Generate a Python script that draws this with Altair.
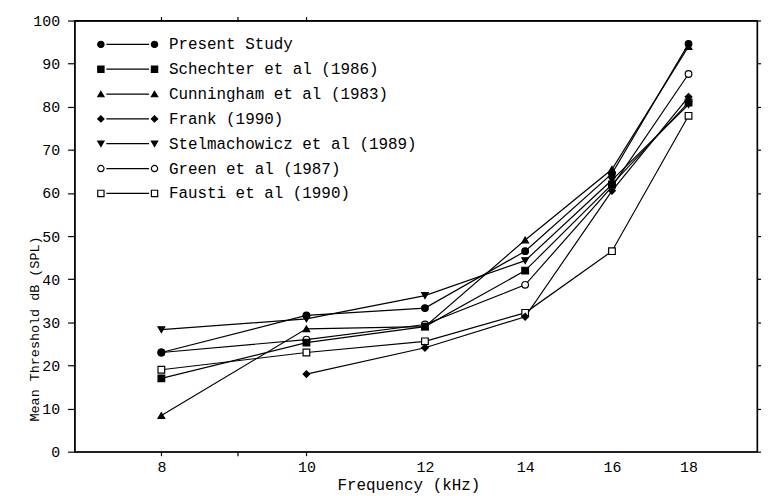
import altair as alt
import pandas as pd

freqs = [8, 10, 12, 14, 16, 18]
studies = [
    "Present Study",
    "Schechter et al (1986)",
    "Cunningham et al (1983)",
    "Frank (1990)",
    "Stelmachowicz et al (1989)",
    "Green et al (1987)",
    "Fausti et al (1990)",
]
present = [23.0, 31.6, 33.3, 46.5, 64.5, 94.6]
schechter = [17.0, 25.3, 29.0, 42.0, 62.0, 81.0]
cunningham = [8.4, 28.5, 29.0, 49.1, 65.5, 94.0]
frank = [None, 18.0, 24.1, 31.3, 60.5, 82.3]
stelmachowicz = [28.3, 30.8, 36.2, 44.3, 63.0, 80.5]
green = [23.0, 26.0, 29.5, 38.7, 61.5, 87.6]
fausti = [19.0, 23.0, 25.6, 32.2, 46.5, 77.9]
series = [present, schechter, cunningham, frank, stelmachowicz, green, fausti]

x_ticks = [8, 9, 10, 12, 14, 16, 18]
y_ticks = list(range(0, 101, 10))

rows = []
# open-marker series first so filled markers are drawn on top of them
draw_order = [5, 6, 0, 1, 2, 3, 4]
for i in draw_order:
    s, vals = studies[i], series[i]
    for f, v in zip(freqs, vals):
        if v is not None:
            rows.append({"Study": s, "Frequency": f, "Threshold": v})
df = pd.DataFrame(rows)
df_leg = pd.DataFrame({"Study": studies})

FONT = "Liberation Mono"
point_shapes = ["circle", "square", "triangle-up", "diamond", "triangle-down", "circle", "square"]
fills = ["black", "black", "black", "black", "black", "white", "white"]

xscale = alt.Scale(type="log", domain=[7, 20], nice=False)
yscale = alt.Scale(domain=[0, 100], nice=False, zero=True)
shape_scale = alt.Scale(domain=studies, range=point_shapes)
fill_scale = alt.Scale(domain=studies, range=fills)
leg_y = alt.Scale(type="point", domain=studies, range=[24, 174], padding=0)

common_axis = dict(
    domainColor="black",
    domainWidth=1.3,
    tickColor="black",
    tickWidth=1.2,
    labelColor="black",
    labelFont=FONT,
    grid=False,
    titleColor="black",
    titleFont=FONT,
    titleFontWeight="normal",
)

lines = alt.Chart(df).mark_line(color="black", strokeWidth=1.2).encode(
    x=alt.X(
        "Frequency:Q",
        scale=xscale,
        axis=alt.Axis(
            values=x_ticks,
            format="d",
            labelExpr="datum.value == 9 ? '' : datum.label",
            tickOpacity={"condition": {"test": "datum.value <= 10", "value": 1}, "value": 0},
            tickSize=4,
            labelPadding=4,
            labelFontSize=15,
            labelFlush=False,
            title="Frequency (kHz)",
            titleFontSize=16,
            titleX=336,
            titleY=25,
            titleAlign="center",
            titleBaseline="top",
            **common_axis,
        ),
    ),
    y=alt.Y(
        "Threshold:Q",
        scale=yscale,
        axis=alt.Axis(
            values=y_ticks,
            tickSize=7,
            labelPadding=8,
            labelFontSize=15,
            labelFlush=False,
            title="Mean Threshold dB (SPL)",
            titleFontSize=13.5,
            titleX=-40,
            titleY=310,
            titleAngle=270,
            titleAlign="center",
            titleBaseline="middle",
            **common_axis,
        ),
    ),
    detail="Study:N",
    order="Frequency:Q",
)

points = alt.Chart(df).mark_point(
    stroke="black", strokeWidth=1.2, size=45, opacity=1
).encode(
    x=alt.X(
        "Frequency:Q",
        scale=xscale,
        axis=alt.Axis(orient="top", values=[8, 9, 10], labels=False, tickSize=4, title=None, **common_axis),
    ),
    y=alt.Y(
        "Threshold:Q",
        scale=yscale,
        axis=alt.Axis(orient="right", values=y_ticks, labels=False, tickSize=5, title=None, **common_axis),
    ),
    shape=alt.Shape("Study:N", scale=shape_scale, legend=None),
    fill=alt.Fill("Study:N", scale=fill_scale, legend=None),
)

# hand-built legend: marker - line - marker + label, rows placed by a point scale
leg_base = alt.Chart(df_leg)
leg_rule = leg_base.mark_rule(color="black", strokeWidth=1.2).encode(
    x=alt.value(32),
    x2=alt.value(75),
    y=alt.Y("Study:N", scale=leg_y, axis=None),
)


def leg_marker(xpos):
    return leg_base.mark_point(stroke="black", strokeWidth=1.2, size=40, opacity=1).encode(
        x=alt.value(xpos),
        y=alt.Y("Study:N", scale=leg_y, axis=None),
        shape=alt.Shape("Study:N", scale=shape_scale, legend=None),
        fill=alt.Fill("Study:N", scale=fill_scale, legend=None),
    )


leg_text = leg_base.mark_text(
    align="left", baseline="middle", font=FONT, fontSize=16, color="black"
).encode(
    x=alt.value(95),
    y=alt.Y("Study:N", scale=leg_y, axis=None),
    text="Study:N",
)

chart = (
    alt.layer(lines, points, leg_rule, leg_marker(26.5), leg_marker(80.5), leg_text)
    .resolve_scale(y="independent")
    .resolve_axis(x="independent", y="independent")
    .properties(
        width=687,
        height=434,
        autosize=alt.AutoSizeParams(type="none"),
        padding={"left": 67, "top": 11, "right": 4, "bottom": 43},
        background="white",
    )
    .configure_view(stroke="black", strokeWidth=1.3)
)

chart.save("out.html", embed_options={"renderer": "svg", "actions": False})
